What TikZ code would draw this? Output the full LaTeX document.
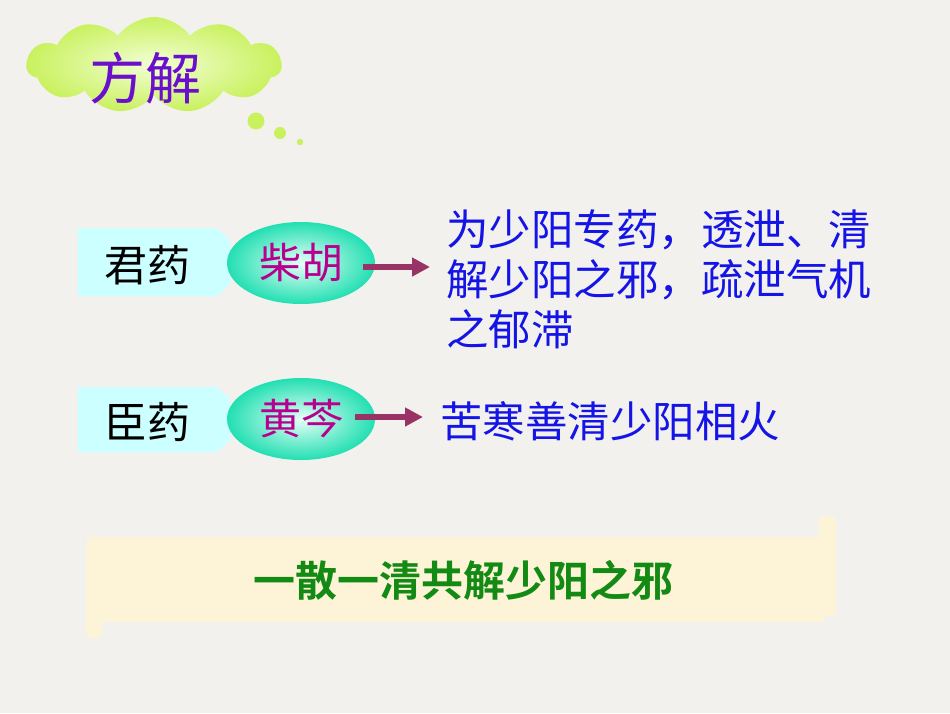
\documentclass[tikz,border=0pt]{standalone}
\usepackage{fontspec}
\newfontfamily\cjk{Noto Sans CJK SC}
\newfontfamily\cjkb{Noto Sans CJK SC Bold}
\usepackage{tikz}
\usetikzlibrary{positioning,shapes,shapes.geometric,shapes.symbols,arrows.meta,calc}

\definecolor{paper}{HTML}{F3F1EE}
\definecolor{cloudedge}{HTML}{C9F15E}
\definecolor{cloudmid}{HTML}{F3FFD6}
\definecolor{titlepurple}{HTML}{6A0FCC}
\definecolor{boxcyan}{HTML}{CCFFFF}
\definecolor{ellout}{HTML}{22DFB2}
\definecolor{ellin}{HTML}{E6FFF7}
\definecolor{herbpink}{HTML}{B8008F}
\definecolor{arrowred}{HTML}{993366}
\definecolor{descblue}{HTML}{1414E6}
\definecolor{scroll}{HTML}{FDF4D8}
\definecolor{sumgreen}{HTML}{138A13}

\tikzset{
	rolebox/.style={fill=boxcyan,draw=none},
	herb/.style={ellipse,minimum width=148,minimum height=82,inner sep=0,
		shading=radial,inner color=ellin,outer color=ellout,
		font=\cjk\fontsize{42}{48}\selectfont,text=herbpink},
	arr/.style={draw=arrowred,line width=6,-{Triangle[length=18,width=18]}},
	desc/.style={font=\cjk\fontsize{42.5}{50}\selectfont,text=descblue,inner sep=0,align=left},
}

\begin{document}
\begin{tikzpicture}[x=1pt,y=-1pt]
		\fill[paper] (0,0) rectangle (950,713);
		\useasboundingbox (0,0) rectangle (950,713);
		% title cloud
		\node[cloud,cloud puffs=11,cloud puff arc=110,aspect=2.6,minimum width=255,minimum height=96,
			shading=radial,inner color=cloudmid,outer color=cloudedge] (title) at (154,65) {};
		\node[font=\cjk\fontsize{56}{60}\selectfont,text=titlepurple] (titletext) at (145,78) {方解};
		\fill[cloudedge] (256,121) circle (8.5);
		\fill[cloudedge] (280,133) circle (6);
		\fill[cloudedge] (300,142) circle (3.2);
		% jun yao
		\fill[rolebox] (78,228) -- (217,228) -- (230,240) -- (230,284) -- (217,296) -- (78,296) -- cycle;
		\node[font=\cjk\fontsize{43}{48}\selectfont] (jun) at (147,265) {君药};
		\node[herb] (chaihu) at (301,263) {柴胡};
		\node[desc,anchor=north west] (desc1) at (446,210) {为少阳专药，透泄、清\\解少阳之邪，疏泄气机\\之郁滞};
		\coordinate (tip1) at (430,267);
		\draw[arr] ([xshift=-12]chaihu.east |- tip1) -- (tip1);
		% chen yao
		\fill[rolebox] (78,387) -- (217,387) -- (230,399) -- (230,440) -- (217,452) -- (78,452) -- cycle;
		\node[font=\cjk\fontsize{43}{48}\selectfont] (chen) at (147,422) {臣药};
		\node[herb] (huangqin) at (301,419) {黄芩};
		\node[desc,anchor=west] (desc2) at (440,421) {苦寒善清少阳相火};
		\coordinate (tip2) at (423,417);
		\draw[arr] ([xshift=-20]huangqin.east |- tip2) -- (tip2);
		% summary scroll
		\fill[scroll] (87,537) rectangle (824,622);
		\fill[scroll,rounded corners=6] (819,516) rectangle (836,616);
		\fill[scroll,rounded corners=6] (86,544) rectangle (102,638);
		\node[font=\cjkb\fontsize{42}{48}\selectfont,text=sumgreen] (summary) at (463,580) {一散一清共解少阳之邪};
	\end{tikzpicture}
\end{document}
